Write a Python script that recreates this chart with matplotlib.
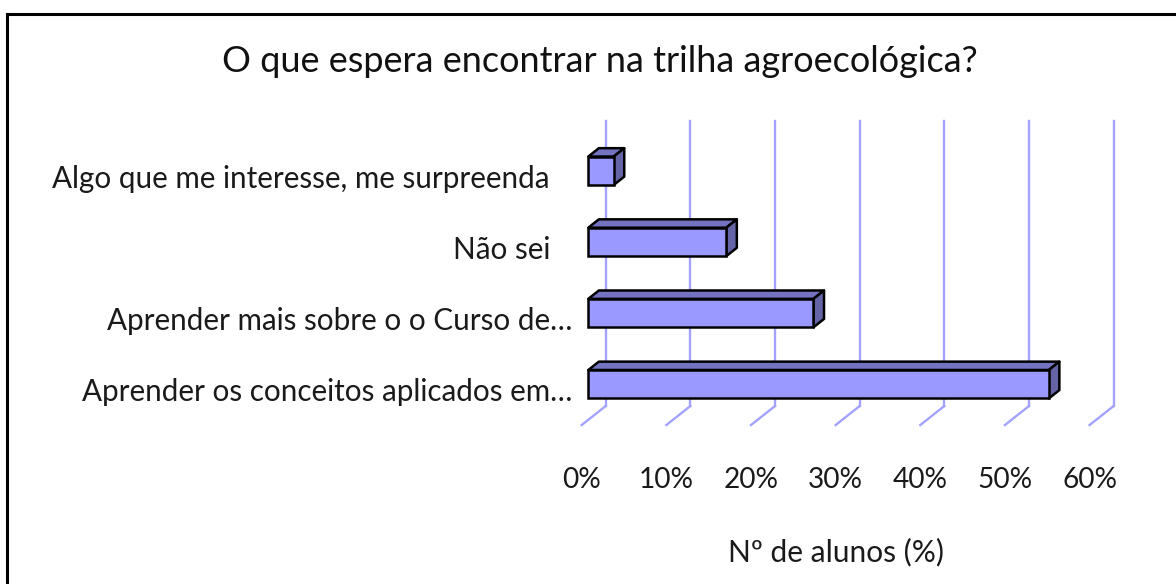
import matplotlib
matplotlib.use("Agg")
import matplotlib.pyplot as plt
from matplotlib.patches import Polygon
from matplotlib.lines import Line2D
import matplotlib.transforms as mtransforms

# ---------------- data ----------------
title = "O que espera encontrar na trilha agroecológica?"
categories = [
    "Aprender os conceitos aplicados em…",
    "Aprender mais sobre o o Curso de…",
    "Não sei",
    "Algo que me interesse, me surpreenda",
]
values = [54.4, 26.6, 16.3, 3.0]
xticks = [0, 10, 20, 30, 40, 50, 60]
xtick_labels = ["0%", "10%", "20%", "30%", "40%", "50%", "60%"]
xlabel = "Nº de alunos (%)"

# ---------------- style / layout ----------------
W, H, DPI = 1176, 584, 100
FONT = ["Lato", "DejaVu Sans"]
FRONT = "#9999ff"
TOP = "#7373c2"
SIDE = "#6464a6"
GRID = "#a3a3ff"
plt.rcParams["font.family"] = FONT

fig = plt.figure(figsize=(W / DPI, H / DPI), dpi=DPI)
fig.patch.set_facecolor("white")

# front-plane axes (pixel layout)
left_px, right_px = 588.3, 1096.2
top_px, bot_px = 135.2, 419.8
ax = fig.add_axes([left_px / W, (H - bot_px) / H,
                   (right_px - left_px) / W, (bot_px - top_px) / H])
ax.set_xlim(0, 60)
ax.set_ylim(-0.5, 3.5)
ax.axis("off")

sx = (right_px - left_px) / 60.0   # px per percent
sy = (bot_px - top_px) / 4.0       # px per category

# depth vector (display px, full floor depth) and plane fractions
Dx, Dy = 24.0, 19.0
f_front = 0.725
back_dx, back_dy = f_front * Dx / sx, f_front * Dy / sy
floor_dx, floor_dy = -(1 - f_front) * Dx / sx, -(1 - f_front) * Dy / sy
bar_dx, bar_dy = 0.44 * Dx / sx, 0.44 * Dy / sy

# back wall gridlines and floor diagonals
for t in xticks:
    ax.add_line(Line2D([t + back_dx, t + back_dx], [-0.5 + back_dy, 3.5 + back_dy],
                       color=GRID, lw=1.7, clip_on=False, zorder=1))
    ax.add_line(Line2D([t + back_dx, t + floor_dx], [-0.5 + back_dy, -0.5 + floor_dy],
                       color=GRID, lw=1.7, clip_on=False, zorder=1))

# 3D bars
h = 0.4
ypos = list(range(len(categories)))
ax.barh(ypos, values, height=h, color=FRONT, edgecolor="black", linewidth=1.8,
        zorder=4, clip_on=False)
for y, v in zip(ypos, values):
    yt, yb = y + h / 2, y - h / 2
    top = Polygon([(0, yt), (v, yt), (v + bar_dx, yt + bar_dy), (bar_dx, yt + bar_dy)],
                  closed=True, facecolor=TOP, edgecolor="black", lw=1.8,
                  joinstyle="round", zorder=3, clip_on=False)
    side = Polygon([(v, yb), (v + bar_dx, yb + bar_dy), (v + bar_dx, yt + bar_dy), (v, yt)],
                   closed=True, facecolor=SIDE, edgecolor="black", lw=1.8,
                   joinstyle="round", zorder=3, clip_on=False)
    ax.add_patch(top)
    ax.add_patch(side)

renderer = fig.canvas.get_renderer()


def fit(txt, target_px):
    for _ in range(3):
        w = txt.get_window_extent(renderer).width
        txt.set_fontsize(txt.get_fontsize() * target_px / w)


# tick labels: centred at the front end of the floor lines
tick_tr = mtransforms.blended_transform_factory(ax.transData, fig.transFigure)
tick_texts = []
for t, lab in zip(xticks, xtick_labels):
    tt = ax.text(t + floor_dx, (H - 488) / H, lab, transform=tick_tr,
                 ha="center", va="baseline", fontsize=19, color="#1a1a1a")
    tick_texts.append(tt)
fit(tick_texts[1], 55)
for tt in tick_texts:
    tt.set_fontsize(tick_texts[1].get_fontsize())

# category labels
label_right_px = [572, 572, 550, 550]
cat_tr_base = mtransforms.blended_transform_factory(fig.transFigure, ax.transData)
cat_tr = cat_tr_base + mtransforms.ScaledTranslation(0, -17 / DPI, fig.dpi_scale_trans)
cat_texts = []
for y, lab, rx in zip(ypos, categories, label_right_px):
    ct = fig.text(rx / W, y, lab, transform=cat_tr, ha="right", va="baseline",
                  fontsize=19, color="#1a1a1a")
    cat_texts.append(ct)
fit(cat_texts[3], 498)
for ct in cat_texts:
    ct.set_fontsize(cat_texts[3].get_fontsize())

# axis title
xl = fig.text(835.5 / W, (H - 561) / H, xlabel, ha="center", va="baseline",
              fontsize=19, color="#1a1a1a")
fit(xl, 215)

# chart title
tl = fig.text(600 / W, (H - 72) / H, title, ha="center", va="baseline",
              fontsize=22, color="#111111")
fit(tl, 755)

# outer border (top and left edges visible)
fig.add_artist(Line2D([7 / W, 1.0], [(H - 14) / H, (H - 14) / H],
                      transform=fig.transFigure, color="black", lw=2.2))
fig.add_artist(Line2D([7 / W, 7 / W], [0, (H - 14) / H],
                      transform=fig.transFigure, color="black", lw=2.2))

fig.savefig("out.png", dpi=DPI, facecolor="white")
